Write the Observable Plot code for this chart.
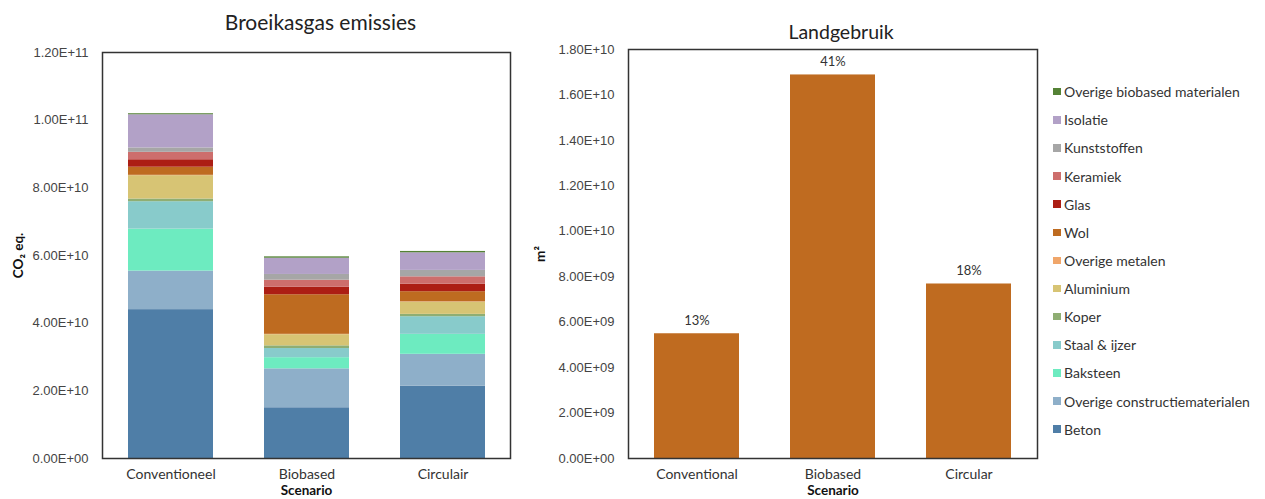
<!DOCTYPE html>
<html><head><meta charset="utf-8">
<script src="https://cdn.jsdelivr.net/npm/d3@7"></script>
<script src="https://cdn.jsdelivr.net/npm/@observablehq/plot@0.6"></script>
<style>
body{margin:0;background:#fff;width:1265px;height:499px;position:relative;overflow:hidden;font-family:Lato,sans-serif}
#left{position:absolute;left:0;top:0}
#right{position:absolute;left:520px;top:0}
#legend{position:absolute;left:1053px;top:77.6px}
.item{height:28.13px;display:flex;align-items:center;font-size:14px;color:#333;white-space:nowrap}
.sw{width:7.5px;height:7.5px;margin-right:3.5px;flex:none}
svg g[aria-label="y-axis tick label"] text{font-family:"Liberation Sans",Arial,sans-serif !important}
</style></head><body>
<div id="left"></div><div id="right"></div><div id="legend"></div>
<script>
// ---- data ----
const scenariosGHG = ["Conventioneel", "Biobased", "Circulair"];
const scenariosLand = ["Conventional", "Biobased", "Circular"];
// stacking order, bottom to top
const materials = ["Beton", "Overige constructiematerialen", "Baksteen", "Staal & ijzer", "Koper", "Aluminium", "Overige metalen", "Wol", "Glas", "Keramiek", "Kunststoffen", "Isolatie", "Overige biobased materialen"];
const materialColors = ["#4f7ea7", "#8eafc9", "#6debc0", "#88cbcb", "#8fae73", "#d7c474", "#f0a66a", "#be6b20", "#ac1e14", "#cd6e6c", "#a6a6a6", "#b2a1c7", "#548235"];
// CO2 eq. per material, per scenario (Conventioneel, Biobased, Circulair)
const beton = [44.0e9, 15.0e9, 21.4e9];
const overigeConstructie = [11.4e9, 11.5e9, 9.4e9];
const baksteen = [12.4e9, 3.3e9, 5.9e9];
const staalIjzer = [8.1e9, 2.7e9, 5.2e9];
const koper = [0.8e9, 0.8e9, 0.7e9];
const aluminium = [6.9e9, 3.3e9, 3.6e9];
const overigeMetalen = [0.1e9, 0.1e9, 0.1e9];
const wol = [2.4e9, 11.7e9, 3.0e9];
const glas = [2.2e9, 2.2e9, 2.2e9];
const keramiek = [2.2e9, 2.1e9, 2.2e9];
const kunststoffen = [1.3e9, 1.7e9, 1.9e9];
const isolatie = [9.8e9, 4.8e9, 5.2e9];
const overigeBiobased = [0.3e9, 0.4e9, 0.4e9];
const ghgSeries = [beton, overigeConstructie, baksteen, staalIjzer, koper, aluminium, overigeMetalen, wol, glas, keramiek, kunststoffen, isolatie, overigeBiobased];
const ghgTicks = [0, 2e10, 4e10, 6e10, 8e10, 1e11, 1.2e11];

const landgebruik = [5.49e9, 16.88e9, 7.68e9];
const landPct = ["13%", "41%", "18%"];
const landTicks = [0, 2e9, 4e9, 6e9, 8e9, 1e10, 1.2e10, 1.4e10, 1.6e10, 1.8e10];

// ---- helpers ----
function sci(d) {
  if (d === 0) return "0.00E+00";
  const e = Math.floor(Math.log10(Math.abs(d)) + 1e-9);
  const m = d / Math.pow(10, e);
  return m.toFixed(2) + "E" + (e < 0 ? "-" : "+") + String(Math.abs(e)).padStart(2, "0");
}
const ghg = [];
materials.forEach((m, i) => scenariosGHG.forEach((s, j) => ghg.push({material: m, scenario: s, value: ghgSeries[i][j]})));
const land = scenariosLand.map((s, i) => ({scenario: s, value: landgebruik[i], pct: landPct[i]}));

const tickFont = "Liberation Sans";

const left = Plot.plot({
  width: 520, height: 499,
  marginLeft: 102, marginRight: 10, marginTop: 52, marginBottom: 41,
  style: {fontFamily: "Lato, sans-serif", background: "#fff", color: "#333"},
  x: {domain: scenariosGHG, paddingInner: 0.375, paddingOuter: 0.1875},
  y: {domain: [0, 1.2e11]},
  color: {domain: materials, range: materialColors},
  marks: [
    Plot.barY(ghg, {x: "scenario", y: "value", fill: "material", order: materials}),
    Plot.frame({stroke: "#333", strokeWidth: 1.5}),
    Plot.axisY(ghgTicks, {tickSize: 0, tickPadding: 14, tickFormat: sci, fontSize: 13, fontFamily: tickFont, fill: "#444", label: null}),
    Plot.axisX({tickSize: 0, tickPadding: 11, fontSize: 14, fill: "#333", label: null}),
    Plot.text(["Scenario"], {frameAnchor: "bottom", lineAnchor: "middle", dy: 32, fontWeight: "bold", fontSize: 13.5, fill: "#111"}),
    Plot.text(["CO₂ eq."], {frameAnchor: "left", textAnchor: "middle", lineAnchor: "middle", dx: -84, rotate: -90, fontWeight: "bold", fontSize: 13.5, fill: "#111"}),
    Plot.text(["Broeikasgas emissies"], {frameAnchor: "top", lineAnchor: "middle", dx: 14, dy: -29, fontSize: 21, fill: "#222"})
  ]
});
document.getElementById("left").appendChild(left);

const right = Plot.plot({
  width: 530, height: 499,
  marginLeft: 108, marginRight: 13, marginTop: 49, marginBottom: 41,
  style: {fontFamily: "Lato, sans-serif", background: "#fff", color: "#333"},
  x: {domain: scenariosLand, paddingInner: 0.375, paddingOuter: 0.1875},
  y: {domain: [0, 1.8e10]},
  marks: [
    Plot.barY(land, {x: "scenario", y: "value", fill: "#bf6b20"}),
    Plot.text(land, {x: "scenario", y: "value", text: "pct", dy: -13, fontSize: 13, fill: "#333"}),
    Plot.frame({stroke: "#333", strokeWidth: 1.5}),
    Plot.axisY(landTicks, {tickSize: 0, tickPadding: 14, tickFormat: sci, fontSize: 13, fontFamily: tickFont, fill: "#444", label: null}),
    Plot.axisX({tickSize: 0, tickPadding: 11, fontSize: 14, fill: "#333", label: null}),
    Plot.text(["Scenario"], {frameAnchor: "bottom", lineAnchor: "middle", dy: 32, fontWeight: "bold", fontSize: 13.5, fill: "#111"}),
    Plot.text(["m²"], {frameAnchor: "left", textAnchor: "middle", lineAnchor: "middle", dx: -88, rotate: -90, fontWeight: "bold", fontSize: 13.5, fill: "#111"}),
    Plot.text(["Landgebruik"], {frameAnchor: "top", lineAnchor: "middle", dx: 8, dy: -17, fontSize: 19.5, fill: "#222"})
  ]
});
document.getElementById("right").appendChild(right);

// legend (top to bottom = reverse stacking order)
const legend = document.getElementById("legend");
materials.map((m, i) => [m, materialColors[i]]).reverse().forEach(([m, c]) => {
  const it = document.createElement("div");
  it.className = "item";
  const sw = document.createElement("span");
  sw.className = "sw";
  sw.style.background = c;
  const tx = document.createElement("span");
  tx.textContent = m;
  it.appendChild(sw); it.appendChild(tx);
  legend.appendChild(it);
});
</script>
</body></html>
